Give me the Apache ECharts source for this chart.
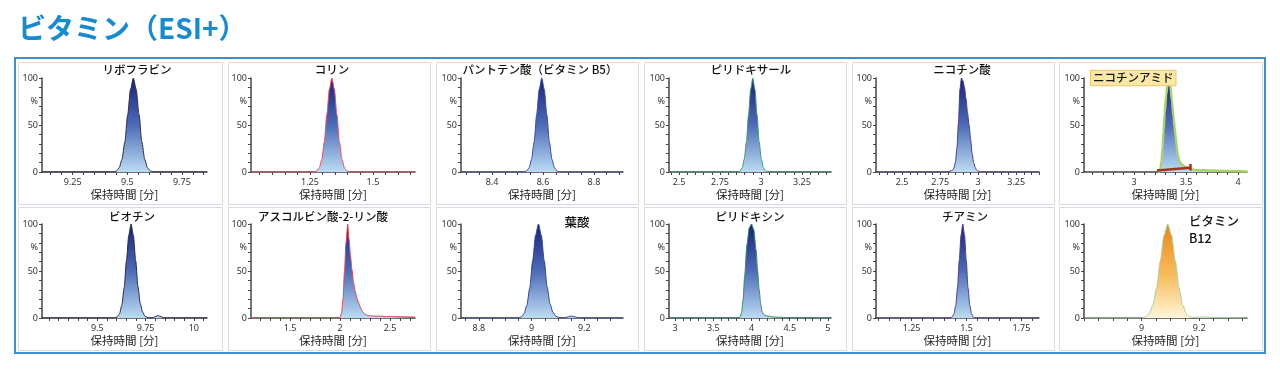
<!DOCTYPE html>
<html><head><meta charset="utf-8">
<script src="https://cdn.jsdelivr.net/npm/echarts@6/dist/echarts.min.js"></script>
<style>html,body{margin:0;padding:0;background:#fff}#c{width:1280px;height:369px}</style>
</head><body><div id="c"></div>
<script>
// ---- data ----
const panelNames = ['リボフラビン','コリン','パントテン酸（ビタミン B5）','ピリドキサール','ニコチン酸','ニコチンアミド',
  'ビオチン','アスコルビン酸-2-リン酸','葉酸','ピリドキシン','チアミン','ビタミン\nB12'];

const riboflavin = [[9.11,0],[9.44,0],[9.45,1.1],[9.463,4.4],[9.476,13.5],[9.489,32],[9.502,61],[9.515,88],[9.528,100],[9.541,88],[9.554,61],[9.567,32],[9.58,13.5],[9.593,4.4],[9.606,1.1],[9.618,0],[9.865,0]];
const choline = [[1.016,0],[1.26,0],[1.277,1.1],[1.287,4.4],[1.297,13.5],[1.307,32],[1.317,61],[1.327,88],[1.337,100],[1.347,88],[1.357,61],[1.367,32],[1.377,13.5],[1.387,4.4],[1.397,1.1],[1.41,0],[1.667,0]];
const pantothenic = [[8.278,0],[8.525,0],[8.535,1.1],[8.545,4.4],[8.555,13.5],[8.565,32],[8.575,61],[8.585,88],[8.595,100],[8.605,88],[8.615,61],[8.625,32],[8.635,13.5],[8.645,4.4],[8.655,1.1],[8.667,0],[8.914,0]];
const pyridoxal = [[2.439,0],[2.86,0],[2.872,1.1],[2.885,4.4],[2.898,13.5],[2.911,32],[2.924,61],[2.937,88],[2.95,100],[2.963,88],[2.976,61],[2.989,32],[3.002,13.5],[3.015,4.4],[3.028,1.1],[3.04,0],[3.427,0]];
const nicotinicAcid = [[2.328,0],[2.80,0],[2.815,1],[2.83,1.5],[2.84,4],[2.85,10],[2.86,25],[2.87,52],[2.88,88],[2.89,100],[2.90,97],[2.91,90],[2.92,78],[2.93,63],[2.94,50],[2.95,35],[2.96,20],[2.97,10],[2.98,5],[2.99,2],[3.0,1],[3.02,0],[3.40,0]];
const nicotinamide = [[3.235,0],[3.245,0],[3.255,4],[3.265,12],[3.275,26],[3.285,44],[3.295,62],[3.31,82],[3.325,96],[3.337,100],[3.35,92],[3.365,75],[3.38,58],[3.39,48],[3.40,38],[3.41,28],[3.42,19],[3.435,12],[3.46,8],[3.50,5],[3.55,3],[3.6,2],[3.75,1.5],[3.9,1],[4.087,0.5]];
const biotin = [[9.214,0],[9.59,0],[9.603,1.1],[9.615,4.4],[9.627,13.5],[9.639,32],[9.651,61],[9.663,88],[9.675,100],[9.687,88],[9.699,61],[9.711,33],[9.723,15],[9.735,6],[9.747,2],[9.76,0.5],[9.785,0],[9.80,1.5],[9.815,2.5],[9.83,1.5],[9.845,0],[10.068,0]];
const ascorbylPhosphate = [[1.11,0.5],[1.5,0.5],[1.9,0.5],[2.0,0.5],[2.015,5],[2.03,20],[2.045,50],[2.06,80],[2.077,100],[2.09,84],[2.105,66],[2.12,51],[2.135,38],[2.15,29],[2.17,21],[2.19,15],[2.21,10],[2.23,6],[2.25,4],[2.28,2.5],[2.35,2],[2.5,1.5],[2.75,1]];
const folicAcid = [[8.732,0],[8.95,0],[8.96,1.1],[8.971,4.4],[8.982,13.5],[8.993,32],[9.004,61],[9.015,88],[9.026,100],[9.037,88],[9.048,61],[9.059,33],[9.07,15],[9.081,6],[9.092,2],[9.103,0.5],[9.115,0],[9.13,0.5],[9.14,1.5],[9.15,2],[9.16,1.5],[9.175,0.5],[9.19,0],[9.347,0]];
const pyridoxine = [[2.92,0],[3.83,0],[3.85,1],[3.87,6],[3.89,20],[3.91,45],[3.94,78],[3.97,96],[4.0,100],[4.03,94],[4.06,72],[4.08,50],[4.10,30],[4.12,15],[4.14,6],[4.17,3],[4.22,2],[4.3,1],[4.45,0.5],[5.04,0]];
const thiamine = [[1.088,0],[1.425,0],[1.435,1.1],[1.443,4.4],[1.451,13.5],[1.459,32],[1.467,61],[1.475,88],[1.483,100],[1.491,88],[1.499,61],[1.507,32],[1.515,13.5],[1.523,4.4],[1.531,1.1],[1.54,0],[1.83,0]];
const cobalamin = [[8.8,0],[9.0,0],[9.013,1.1],[9.026,4.4],[9.039,13.5],[9.052,32],[9.065,61],[9.078,88],[9.091,100],[9.104,88],[9.117,61],[9.13,32],[9.143,13.5],[9.156,4.4],[9.169,1.1],[9.18,0.5],[9.2,1],[9.22,1],[9.25,0.5],[9.366,0]];

const seriesData = [riboflavin, choline, pantothenic, pyridoxal, nicotinicAcid, nicotinamide,
  biotin, ascorbylPhosphate, folicAcid, pyridoxine, thiamine, cobalamin];

const xMins = [9.11, 1.016, 8.278, 2.439, 2.328, 2.519, 9.214, 1.11, 8.732, 2.92, 1.088, 8.8];
const xMaxs = [9.865, 1.667, 8.914, 3.427, 3.40, 4.087, 10.068, 2.75, 9.347, 5.04, 1.83, 9.366];
const xTickLabels = [
  [9.25, 9.5, 9.75], [1.25, 1.5], [8.4, 8.6, 8.8], [2.5, 2.75, 3, 3.25], [2.5, 2.75, 3, 3.25], [3, 3.5, 4],
  [9.5, 9.75, 10], [1.5, 2, 2.5], [8.8, 9, 9.2], [3, 3.5, 4, 4.5, 5], [1.25, 1.5, 1.75], [9, 9.2]
];
const xTickSteps = [0.05, 0.05, 0.05, 0.05, 0.05, 0.1, 0.05, 0.1, 0.05, 0.1, 0.05, 0.05];
const yTickLabels = [0, 50, 75, 100];
const integrationMarks = [
  [9.47, 9.60], [1.28, 1.39], [8.54, 8.655], [2.875, 3.03], [2.79, 3.07], [3.22, 3.54],
  [9.62, 9.76], [1.92, 2.33, 2.45, 2.56], [8.965, 9.105], [3.85, 4.28], [1.44, 1.53], []
];
const nicotinamideBaseline = [[3.22, 1.5], [3.54, 4.5]];

// ---- styles ----
const lineColors = ['#2b2d45','#e0506a','#3a4aa8','#3f9a6a','#503c88','#a9d36a',
  '#2b2d45','#e04656','#34458f','#3a8a66','#503c88','#9fd4a6'];
const navyFill = () => new echarts.graphic.LinearGradient(0,0,0,1,[{offset:0,color:'#18207a'},{offset:0.5,color:'#4d6cb8'},{offset:1,color:'#bcdcf3'}]);
const orangeFill = () => new echarts.graphic.LinearGradient(0,0,0,1,[{offset:0,color:'#ee8514'},{offset:0.55,color:'#f7bd5e'},{offset:1,color:'#fff6d8'}]);

const axisLeft = [42, 251, 461, 669, 876, 1084];
const axisRight = [207, 415, 623, 831, 1039, 1247];
const rowTop = [78, 224];
const plotH = 94;
const panelLeft = [18, 228, 436, 644, 852, 1059];
const panelRight = [222, 430, 638, 846, 1054, 1262];
const panelTop = [62, 207];
const panelBottom = [204, 350];
const titleX = [137, 332, 540, 751, 962, 1091, 132, 323, 577, 750, 965, 1189];

const fontCJK = '"Noto Sans CJK JP", "Noto Sans", sans-serif';

function ticksFor(i) {
  const out = [];
  const s = xTickSteps[i];
  let v = Math.ceil(xMins[i] / s - 1e-9) * s;
  while (v <= xMaxs[i] + 1e-9) { out.push(+v.toFixed(4)); v += s; }
  return out;
}

const grids = [], xAxes = [], yAxes = [], series = [], graphics = [];
for (let i = 0; i < 12; i++) {
  const col = i % 6, row = Math.floor(i / 6);
  grids.push({ left: axisLeft[col], top: rowTop[row], width: axisRight[col] - axisLeft[col], height: plotH, containLabel: false });
  xAxes.push({
    type: 'value', gridIndex: i, min: xMins[i], max: xMaxs[i],
    name: '保持時間 [分]', nameLocation: 'middle', nameGap: 17,
    nameTextStyle: { fontFamily: fontCJK, fontSize: 11.5, color: '#222' },
    axisLine: { show: true, onZero: false, lineStyle: { color: '#444', width: 1.5 } },
    axisTick: { show: true, customValues: ticksFor(i), length: 3, lineStyle: { color: '#444' } },
    axisLabel: { customValues: xTickLabels[i], fontSize: 9, color: '#333', margin: 6, fontFamily: 'Noto Sans, sans-serif' },
    splitLine: { show: false }
  });
  yAxes.push({
    type: 'value', gridIndex: i, min: 0, max: 100,
    axisLine: { show: true, lineStyle: { color: '#444', width: 1.5 } },
    axisTick: { show: true, customValues: [0,10,20,30,40,50,60,70,80,90,100], length: 3, lineStyle: { color: '#444' } },
    axisLabel: { customValues: yTickLabels, fontSize: 9, color: '#333', margin: 4, fontFamily: 'Noto Sans, sans-serif',
      formatter: v => v === 75 ? '%' : String(v) },
    splitLine: { show: false }
  });
  const marks = integrationMarks[i].map(x => [{ coord: [x, -1] }, { coord: [x, 6] }]);
  series.push({
    type: 'line', xAxisIndex: i, yAxisIndex: i, data: seriesData[i],
    showSymbol: false, smooth: 0.25, smoothMonotone: 'x', silent: true,
    lineStyle: { color: lineColors[i], width: i === 5 ? 2.5 : 1 },
    areaStyle: { color: i === 11 ? orangeFill() : navyFill(), opacity: 1 },
    markLine: i === 5 ? undefined : { silent: true, symbol: 'none', label: { show: false },
      lineStyle: { color: '#d9534f', width: 1, type: 'solid' }, data: marks },
    z: 2
  });
  graphics.push({ type: 'rect', shape: { x: panelLeft[col] + 0.5, y: panelTop[row] + 0.5,
    width: panelRight[col] - panelLeft[col], height: panelBottom[row] - panelTop[row] },
    style: { fill: null, stroke: '#d6dce2', lineWidth: 1 }, silent: true, z: -1 });
}
series.push({
  type: 'line', xAxisIndex: 5, yAxisIndex: 5, data: nicotinamideBaseline, showSymbol: false, silent: true,
  lineStyle: { color: '#a8321e', width: 2.5 }, z: 5,
  markLine: { silent: true, symbol: 'none', label: { show: false }, lineStyle: { color: '#a8321e', width: 2.5, type: 'solid' },
    data: nicotinamideBaseline.map(p => [{ coord: [p[0], p[1] - 3] }, { coord: [p[0], p[1] + 4] }]) }
});

for (let i = 0; i < 12; i++) {
  const row = Math.floor(i / 6);
  const cy = row === 0 ? 70 : 217;
  if (i === 5) {
    graphics.push({ type: 'text', x: titleX[i], y: 78, z: 10,
      style: { text: panelNames[i], font: '500 11.5px ' + fontCJK, fill: '#111', align: 'left', verticalAlign: 'middle',
        backgroundColor: '#fbe8a6', borderColor: '#e6c76a', borderWidth: 1, padding: [2, 2, 1, 2] } });
  } else if (i === 11) {
    graphics.push({ type: 'text', x: titleX[i], y: 213, z: 10,
      style: { text: panelNames[i], font: '500 12.5px ' + fontCJK, fill: '#111', align: 'left', verticalAlign: 'top', lineHeight: 17 } });
  } else if (i === 8) {
    graphics.push({ type: 'text', x: titleX[i], y: 222, z: 10,
      style: { text: panelNames[i], font: '500 12.5px ' + fontCJK, fill: '#111', align: 'center', verticalAlign: 'middle' } });
  } else {
    graphics.push({ type: 'text', x: titleX[i], y: cy, z: 10,
      style: { text: panelNames[i], font: '500 11.5px ' + fontCJK, fill: '#111', align: 'center', verticalAlign: 'middle' } });
  }
}
graphics.push({ type: 'text', x: 18, y: 28, style: { text: 'ビタミン（ESI+）', font: 'bold 28px ' + fontCJK, fill: '#178bd0', align: 'left', verticalAlign: 'middle' } });
graphics.push({ type: 'rect', shape: { x: 15, y: 58, width: 1250, height: 295 }, style: { fill: null, stroke: '#3b90d2', lineWidth: 2 }, silent: true });

const chart = echarts.init(document.getElementById('c'), null, { renderer: 'canvas' });
chart.setOption({
  animation: false,
  backgroundColor: '#fff',
  grid: grids, xAxis: xAxes, yAxis: yAxes, series: series, graphic: graphics
});
</script></body></html>
